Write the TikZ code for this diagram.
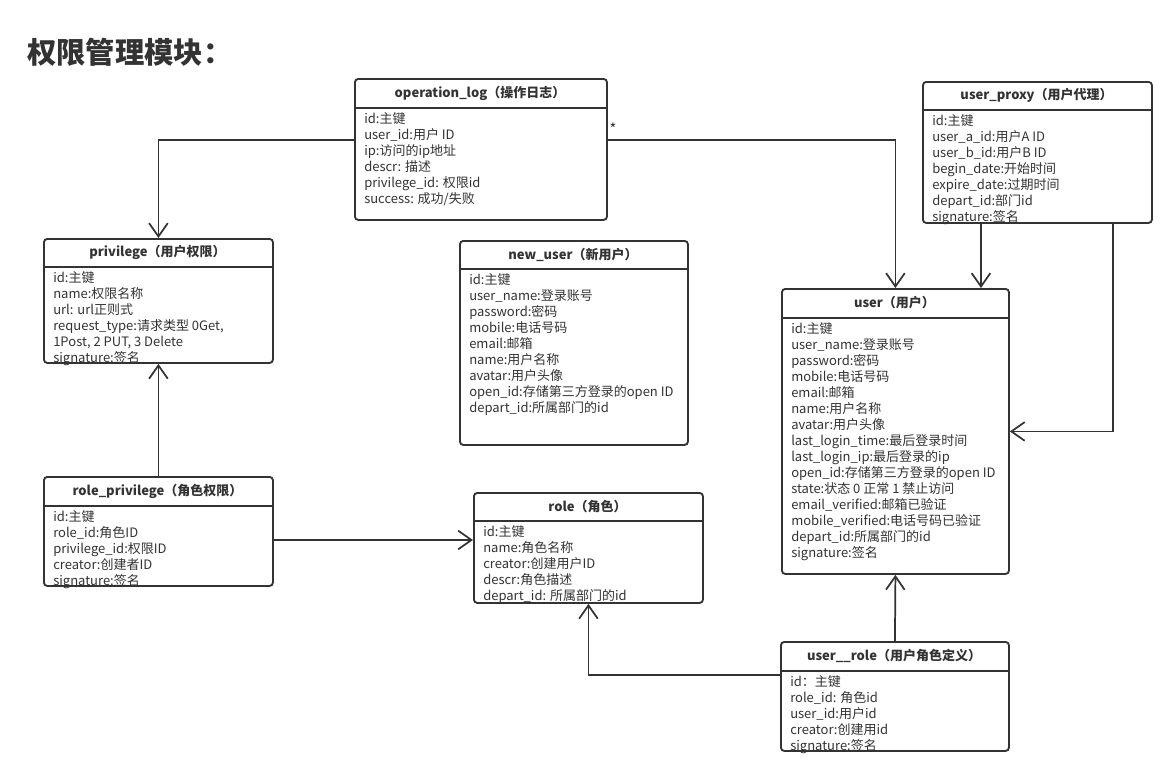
\documentclass[tikz,border=0pt]{standalone}
\usepackage{fontspec}
\setmainfont{Noto Sans CJK SC}
\usetikzlibrary{arrows.meta}
\definecolor{ink}{HTML}{333333}
\tikzset{
  tbl/.style={draw=ink, line width=1.4pt, rounded corners=2.5pt, inner sep=0pt, fill=white},
  tblline/.style={draw=ink, line width=1.4pt},
  hdrtext/.style={inner sep=0pt, font=\bfseries\fontsize{9.75pt}{12pt}\selectfont, text=ink},
  bodytext/.style={inner sep=0pt, align=left, font=\fontsize{9.75pt}{12pt}\selectfont, text=ink},
  conn/.style={draw=ink, line width=1.3pt, -{Straight Barb[length=10pt,width=14pt,line width=1.3pt]}},
}
\newcommand\erbox[8]{%
  \node[tbl, minimum width=#4*0.75pt, minimum height=#5*0.75pt, anchor=north west] (#1) at (#2,#3) {};
  \draw[tblline] (#2,#3+#6) -- (#2+#4,#3+#6);
  \node[hdrtext] (#1-title) at (#2+#4/2,#3+#6/2) {#7};
  \node[bodytext, anchor=north west] (#1-body) at (#2+10,#3+#6+4) {#8};
}
\begin{document}
\begin{tikzpicture}[x=0.75pt,y=-0.75pt]
\useasboundingbox[fill=white] (0,0) rectangle (1175,775);
\node[anchor=west, inner sep=0pt, text=ink, font=\bfseries\fontsize{22pt}{26pt}\selectfont] (title) at (27,52) {权限管理模块：};

\erbox{oplog}{354}{78}{252}{141}{30}{operation\_log（操作日志）}{id:主键\\user\_id:用户 ID\\ip:访问的ip地址\\descr: 描述\\privilege\_id: 权限id\\success: 成功/失败}
\erbox{proxy}{922}{81}{229}{141}{29}{user\_proxy（用户代理）}{id:主键\\user\_a\_id:用户A ID\\user\_b\_id:用户B ID\\begin\_date:开始时间\\expire\_date:过期时间\\depart\_id:部门id\\signature:签名}
\erbox{priv}{43}{238}{229}{124}{29}{privilege（用户权限）}{id:主键\\name:权限名称\\url: url正则式\\request\_type:请求类型 0Get,\\1Post, 2 PUT, 3 Delete\\signature:签名}
\erbox{newuser}{459}{240}{228}{204}{29}{new\_user（新用户）}{id:主键\\user\_name:登录账号\\password:密码\\mobile:电话号码\\email:邮箱\\name:用户名称\\avatar:用户头像\\open\_id:存储第三方登录的open ID\\depart\_id:所属部门的id}
\erbox{user}{781}{288}{227}{285}{30}{user（用户）}{id:主键\\user\_name:登录账号\\password:密码\\mobile:电话号码\\email:邮箱\\name:用户名称\\avatar:用户头像\\last\_login\_time:最后登录时间\\last\_login\_ip:最后登录的ip\\open\_id:存储第三方登录的open ID\\state:状态 0 正常 1 禁止访问\\email\_verified:邮箱已验证\\mobile\_verified:电话号码已验证\\depart\_id:所属部门的id\\signature:签名}
\erbox{rp}{43}{476}{229}{109}{30}{role\_privilege（角色权限）}{id:主键\\role\_id:角色ID\\privilege\_id:权限ID\\creator:创建者ID\\signature:签名}
\erbox{role}{473}{492}{229}{110}{29}{role（角色）}{id:主键\\name:角色名称\\creator:创建用户ID\\descr:角色描述\\depart\_id: 所属部门的id}
\erbox{ur}{780}{641}{228}{109}{30}{user\_\_role（用户角色定义）}{id：主键\\role\_id: 角色id\\user\_id:用户id\\creator:创建用id\\signature:签名}

\coordinate (j1) at (158,140);
\coordinate (j2) at (893,140);
\coordinate (px1) at (981,0);
\coordinate (px2) at (1113,0);
\coordinate (rpy) at (0,540);
\coordinate (ury) at (0,675);

\draw[conn] (oplog.west |- j1) -| (priv.north);
\draw[conn] (oplog.east |- j2) -| (user.north);
\node[inner sep=0pt, text=ink, font=\fontsize{11pt}{12pt}\selectfont] (star) at (613,129) {*};
\draw[conn] (proxy.south -| px1) -- (user.north -| px1);
\draw[conn] (proxy.south -| px2) |- (user.east);
\draw[conn] (rp.north) -- (priv.south);
\draw[conn] (rp.east |- rpy) -- (role.west |- rpy);
\draw[conn] (ur.north) -- (user.south);
\draw[conn] (ur.west |- ury) -| (role.south);
\end{tikzpicture}
\end{document}
